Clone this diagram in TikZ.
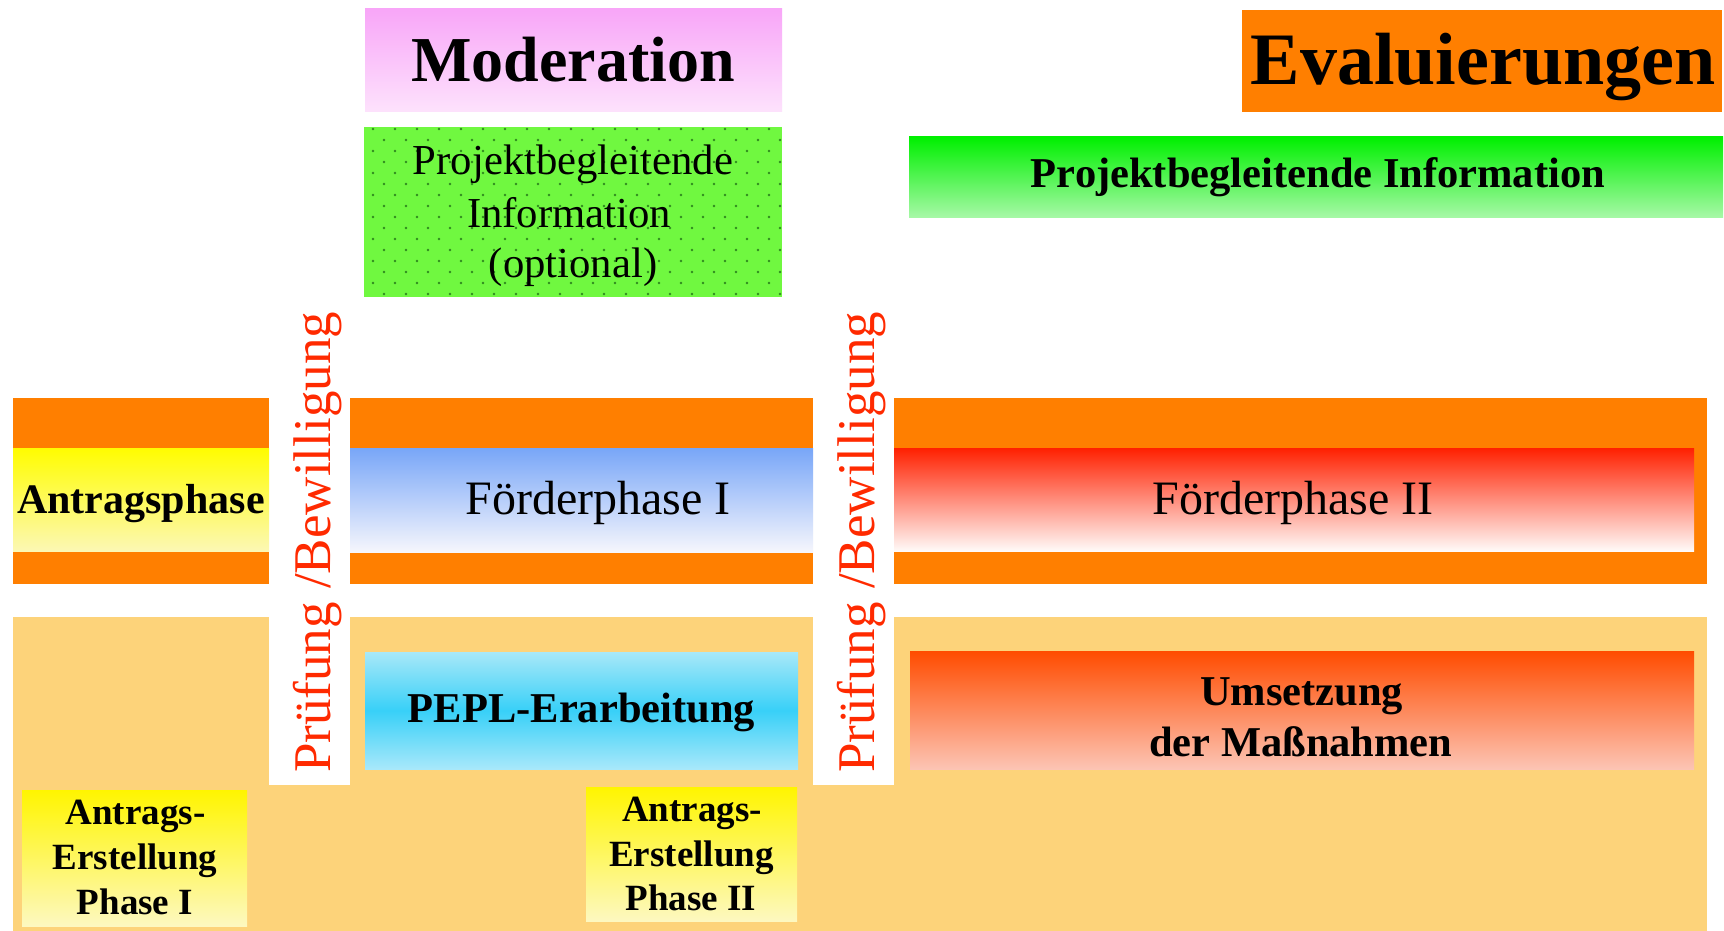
\documentclass[tikz,border=0pt]{standalone}
\usepackage{fontspec}
\setmainfont{Liberation Serif}
\definecolor{bandorange}{HTML}{FF7F00}
\definecolor{lightorange}{HTML}{FDD37A}
\definecolor{pruefred}{HTML}{FF2A00}
\definecolor{dotgreen}{HTML}{2F8A1E}
\definecolor{optgreen}{HTML}{70F840}
\begin{document}
\begin{tikzpicture}[x=1pt,y=-1pt,
  box/.style={rectangle,draw=none,inner sep=0pt,outer sep=0pt},
  lbl/.style={inner sep=0pt,outer sep=0pt,anchor=base},
  boldbig/.style={font=\fontsize{#1}{#1}\selectfont\bfseries},
  plain/.style={font=\fontsize{#1}{#1}\selectfont},
  vert/.style={inner sep=0pt,anchor=base west,rotate=90,text=pruefred,font=\fontsize{53}{53}\selectfont}]
\useasboundingbox[fill=white] (0,0) rectangle (1724,931);

% background blocks
\node[box,fill=lightorange,minimum width=1694pt,minimum height=314pt] (lower) at (860,774) {};
\node[box,fill=white,minimum width=81pt,minimum height=485pt] (strip1) at (309.5,542.5) {};
\node[box,fill=white,minimum width=81pt,minimum height=485pt] (strip2) at (853.5,542.5) {};
\node[box,fill=bandorange,minimum width=256pt,minimum height=186pt] (band1) at (141,491) {};
\node[box,fill=bandorange,minimum width=463pt,minimum height=186pt] (band2) at (581.5,491) {};
\node[box,fill=bandorange,minimum width=813pt,minimum height=186pt] (band3) at (1300.5,491) {};

% inner phase bars
\node[box,top color=yellow!98!orange,bottom color={rgb,255:red,252;green,248;blue,180},minimum width=256pt,minimum height=103pt] (antrag) at (141,499.5) {};
\node[box,top color={rgb,255:red,120;green,166;blue,248},bottom color={rgb,255:red,246;green,246;blue,252},minimum width=463pt,minimum height=104pt] (foerd1) at (581.5,500) {};
\node[box,top color={rgb,255:red,255;green,32;blue,0},bottom color={rgb,255:red,255;green,250;blue,248},minimum width=800pt,minimum height=103pt] (foerd2) at (1294,499.5) {};

% top boxes
\node[box,fill=bandorange,minimum width=480pt,minimum height=102pt] (eval) at (1482,61) {};
\node[box,top color={rgb,255:red,0;green,240;blue,0},bottom color={rgb,255:red,166;green,248;blue,166},minimum width=814pt,minimum height=80pt] (pinfo) at (1316,177) {};
\node[box,top color={rgb,255:red,248;green,166;blue,248},bottom color={rgb,255:red,253;green,226;blue,252},minimum width=417pt,minimum height=103pt] (moder) at (573.5,60.5) {};
\node[box,fill=optgreen,minimum width=418pt,minimum height=170pt] (optinfo) at (573,212) {};
\begin{scope}
  \clip (364,127) rectangle (782,297);
  \foreach \r in {0,...,15} {
    \foreach \c in {0,...,19} {
      \fill[dotgreen] ({373+22*\c+11*mod(\r,2)},{129+11*\r}) circle[radius=1.3pt];
    }
  }
\end{scope}

% lower boxes
\node[box,top color={rgb,255:red,168;green,232;blue,248},bottom color={rgb,255:red,168;green,232;blue,250},middle color={rgb,255:red,56;green,208;blue,248},minimum width=433pt,minimum height=117pt] (pepl) at (581.5,710.5) {};
\node[box,top color={rgb,255:red,255;green,76;blue,0},bottom color={rgb,255:red,252;green,196;blue,180},minimum width=784pt,minimum height=118pt] (umsetz) at (1302,710) {};
\node[box,top color={rgb,255:red,255;green,245;blue,0},bottom color={rgb,255:red,253;green,248;blue,192},minimum width=225pt,minimum height=136pt] (ae1) at (134.5,858) {};
\node[box,top color={rgb,255:red,255;green,245;blue,0},bottom color={rgb,255:red,253;green,248;blue,192},minimum width=211pt,minimum height=134pt] (ae2) at (691.5,854) {};

% texts
\node[lbl,boldbig=74] (evaltxt) at (1483,85) {Evaluierungen};
\node[lbl,boldbig=42.5] (pinfotxt) at (1318,187) {Projektbegleitende Information};
\node[lbl,boldbig=64] (modertxt) at (573,81.7) {Moderation};
\node[lbl,plain=42.7] (opt1) at (573,175) {Projektbegleitende};
\node[lbl,plain=42.7] (opt2) at (569,227) {Information};
\node[lbl,plain=42.7] (opt3) at (573,277) {(optional)};
\node[lbl,boldbig=42] (antragtxt) at (141,513) {Antragsphase};
\node[lbl,plain=48] (foerd1txt) at (598,514) {Förderphase I};
\node[lbl,plain=48] (foerd2txt) at (1293,514) {Förderphase II};
\node[lbl,boldbig=42.5] (pepltxt) at (581.5,722.6) {PEPL-Erarbeitung};
\node[lbl,boldbig=42.5] (ums1) at (1301.6,705) {Umsetzung};
\node[lbl,boldbig=42.5] (ums2) at (1300.7,756) {der Maßnahmen};
\node[lbl,boldbig=37] (ae1a) at (135.5,824.5) {Antrags-};
\node[lbl,boldbig=37] (ae1b) at (135,869.5) {Erstellung};
\node[lbl,boldbig=37] (ae1c) at (135,914) {Phase I};
\node[lbl,boldbig=37] (ae2a) at (692,821) {Antrags-};
\node[lbl,boldbig=37] (ae2b) at (691.5,866.6) {Erstellung};
\node[lbl,boldbig=37] (ae2c) at (691,910) {Phase II};
\node[vert] (pb1) at (330,773) {Prüfung /Bewilligung};
\node[vert] (pb2) at (874,773) {Prüfung /Bewilligung};
\end{tikzpicture}
\end{document}
